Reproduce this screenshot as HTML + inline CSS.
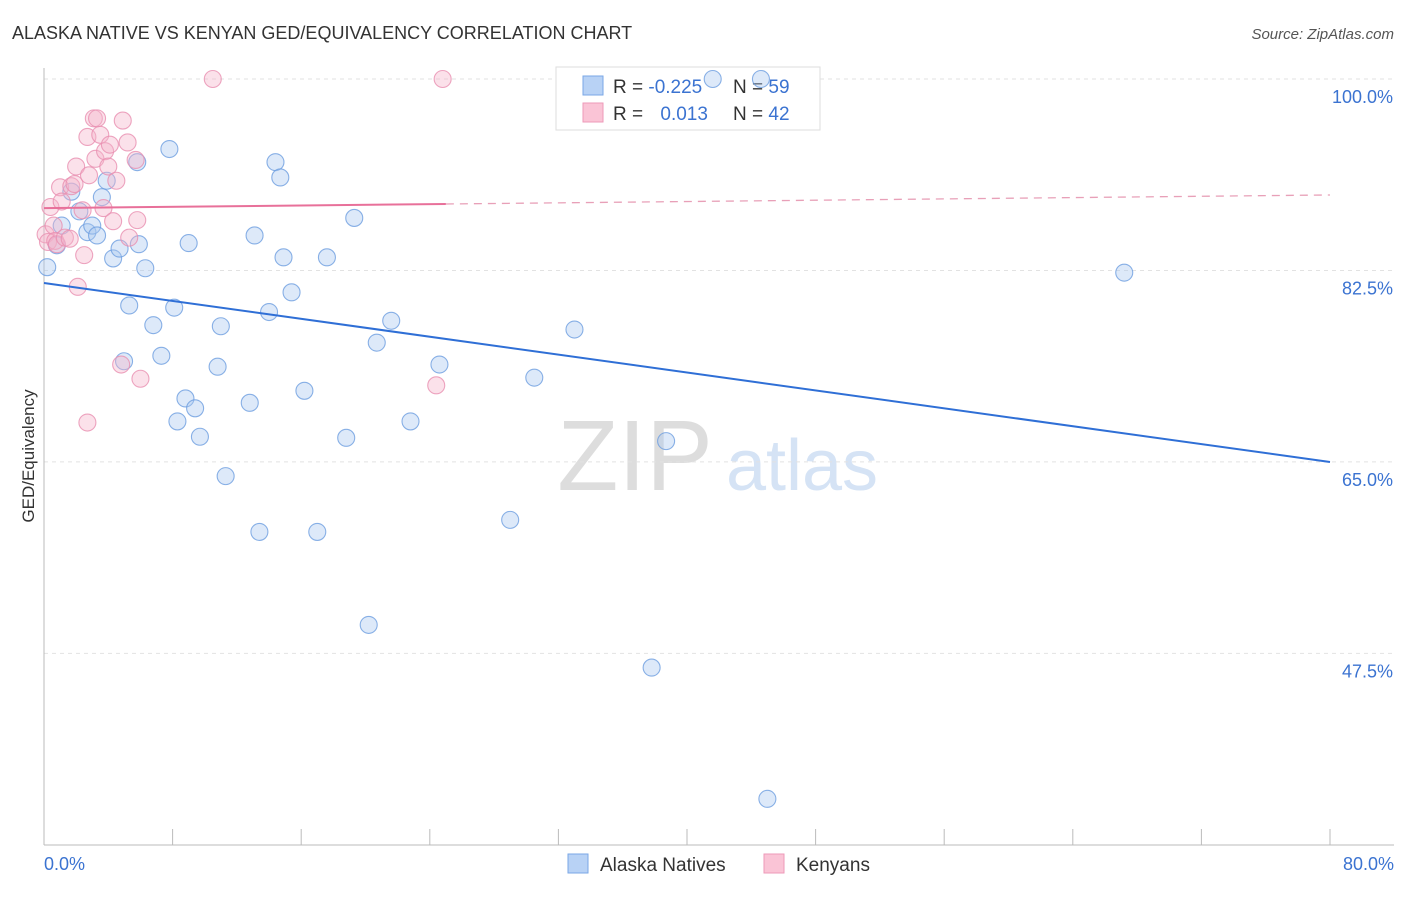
<!DOCTYPE html>
<html><head><meta charset="utf-8"><style>
body{margin:0;background:#fff;font-family:"Liberation Sans",sans-serif;}
svg text{font-family:"Liberation Sans",sans-serif;}
</style></head><body>
<svg id="chart" width="1406" height="892" xmlns="http://www.w3.org/2000/svg">
<text x="12" y="39" font-size="18" fill="#333">ALASKA NATIVE VS KENYAN GED/EQUIVALENCY CORRELATION CHART</text>
<text x="1394" y="39" font-size="15" fill="#555" text-anchor="end" font-style="italic">Source: ZipAtlas.com</text>
<text x="635" y="490" font-size="100" fill="#ddd" font-family="Liberation Serif" text-anchor="middle">ZIP</text>
<text x="802" y="490" font-size="72" fill="#d5e3f5" text-anchor="middle">atlas</text>
<g id="grid"></g>
<g id="axes"></g>
<g>
<rect x="556" y="67" width="264" height="63" fill="#fff" stroke="#ddd"/>
<rect x="583" y="76" width="20" height="19" fill="#b8d2f5" stroke="#7aa7e6"/>
<rect x="583" y="103" width="20" height="19" fill="#fac4d6" stroke="#ee9ab8"/>
<text x="613" y="93" font-size="19" fill="#333">R = <tspan fill="#3b73d1">-0.225</tspan></text>
<text x="733" y="93" font-size="19" fill="#333">N = <tspan fill="#3b73d1">59</tspan></text>
<text x="613" y="120" font-size="19" fill="#333">R = <tspan fill="#3b73d1" dx="12">0.013</tspan></text>
<text x="733" y="120" font-size="19" fill="#333">N = <tspan fill="#3b73d1">42</tspan></text>
</g>
<g id="marks"></g>
<text transform="translate(34,456) rotate(-90)" font-size="17" fill="#333" text-anchor="middle">GED/Equivalency</text>
<g>
<rect x="568" y="854" width="20" height="19" fill="#b8d2f5" stroke="#7aa7e6"/>
<text x="600" y="871" font-size="19" fill="#333">Alaska Natives</text>
<rect x="764" y="854" width="20" height="19" fill="#fac4d6" stroke="#ee9ab8"/>
<text x="796" y="871" font-size="19" fill="#333">Kenyans</text>
</g>
</svg>
<script>
const yTicks=[100,82.5,65,47.5];
const yTickLabels=["100.0%","82.5%","65.0%","47.5%"];
const xTickLabels=["0.0%","80.0%"];
const blueX=[0.2,0.8,1.1,1.7,2.2,2.7,3.0,3.3,3.6,3.9,4.3,4.7,4.98,5.3,5.8,5.9,6.3,6.8,7.3,7.8,8.1,8.3,8.8,9.0,9.4,9.7,10.8,11.0,11.3,12.8,13.1,13.4,14.0,14.4,14.7,14.9,15.4,16.2,17.0,17.6,18.8,19.3,20.2,20.7,21.6,22.8,24.6,29.0,30.5,33.0,37.8,38.7,41.6,44.6,45.0,67.2];
const blueY=[82.8,84.8,86.6,89.7,87.9,86.0,86.6,85.7,89.2,90.7,83.6,84.5,74.2,79.3,92.4,84.9,82.7,77.5,74.7,93.6,79.1,68.7,70.8,85.0,69.9,67.3,73.7,77.4,63.7,70.4,85.7,58.6,78.7,92.4,91.0,83.7,80.5,71.5,58.6,83.7,67.2,87.3,50.1,75.9,77.9,68.7,73.9,59.7,72.7,77.1,46.2,66.9,100,100,34.2,82.3];
const pinkX=[0.1,0.25,0.4,0.6,0.7,0.8,1.0,1.1,1.3,1.6,1.7,1.9,2.0,2.1,2.4,2.5,2.7,2.7,2.8,3.1,3.2,3.3,3.5,3.7,3.8,4.0,4.1,4.3,4.5,4.8,4.9,5.2,5.3,5.7,5.8,6.0,10.5,24.4,24.8];
const pinkY=[85.8,85.1,88.3,86.6,85.2,84.9,90.1,88.8,85.5,85.4,90.2,90.4,92.0,81.0,88.0,83.9,94.7,68.6,91.2,96.4,92.7,96.4,94.9,88.2,93.4,92.0,94.0,87.0,90.7,73.9,96.2,94.2,85.5,92.6,87.1,72.6,100,72.0,100];
const blueTrend=[81.35,64.99];
const pinkTrend=[88.2,89.4];
const X0=44,X1=1330;
const xs=v=>X0+(v/80)*(X1-X0);
const ys=v=>79+(100-v)*10.94;
const NS="http://www.w3.org/2000/svg";
function mk(tag,attrs,parent){const e=document.createElementNS(NS,tag);for(const k in attrs)e.setAttribute(k,attrs[k]);document.getElementById(parent).appendChild(e);return e;}
yTicks.forEach((t,i)=>{
  const l=mk('line',{x1:X0,x2:1394,y1:ys(t),y2:ys(t),stroke:'#e2e2e2','stroke-dasharray':'4,4'},'grid');
  
  
  const tx=mk('text',{x:1393,y:ys(t)+24,'font-size':18,fill:'#3b73d1','text-anchor':'end'},'axes');
  tx.textContent=yTickLabels[i];
  
  
});
let a=mk('line',{x1:X0,x2:X0,y1:68,y2:845,stroke:'#bbb'},'axes');


a=mk('line',{x1:X0,x2:1394,y1:845,y2:845,stroke:'#bbb'},'axes');


for(let i=0;i<=10;i++){const t=mk('line',{x1:xs(i*8),x2:xs(i*8),y1:829,y2:845,stroke:'#bbb'},'axes');

}
[[0,'start',44],[80,'end',1394]].forEach((p,i)=>{const t=mk('text',{x:p[2],y:870,'font-size':18,fill:'#3b73d1','text-anchor':p[1]},'axes');t.textContent=xTickLabels[i];

});
function pts(X,Y,fill,stroke,name){X.forEach((x,i)=>{if(Y[i]==null)return;const c=mk('circle',{cx:xs(x),cy:ys(Y[i]),r:8.5,fill:fill,'fill-opacity':0.4,stroke:stroke,'stroke-opacity':0.8,'stroke-width':1.1},'marks');

});}
pts(blueX,blueY,'#a9c7f0','#6d9de0','alaska-native-point');
pts(pinkX,pinkY,'#f5b3ca','#e88fb0','kenyan-point');
let tl=mk('line',{x1:xs(0),y1:ys(blueTrend[0]),x2:xs(80),y2:ys(blueTrend[1]),stroke:'#2f6fd6','stroke-width':2},'marks');


const pm=v=>pinkTrend[0]+(pinkTrend[1]-pinkTrend[0])*v/80;
tl=mk('line',{x1:xs(0),y1:ys(pm(0)),x2:xs(25),y2:ys(pm(25)),stroke:'#e8709a','stroke-width':2},'marks');


tl=mk('line',{x1:xs(25),y1:ys(pm(25)),x2:xs(80),y2:ys(pm(80)),stroke:'#e8a0b8','stroke-width':1.3,'stroke-dasharray':'8,6'},'marks');


</script>
</body></html>
